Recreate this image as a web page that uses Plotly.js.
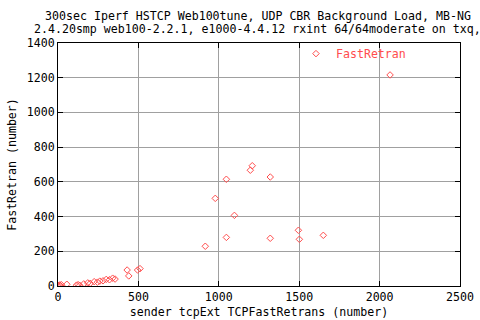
<!DOCTYPE html>
<html>
<head>
<meta charset="utf-8">
<script src="https://cdn.plot.ly/plotly-3.0.1.min.js"></script>
<style>html,body{margin:0;padding:0;background:#fff;}#chart{width:480px;height:320px;}</style>
</head>
<body>
<div id="chart"></div>
<script>
const seriesName = "FastRetran";
const tcpFastRetrans = [0, 5, 10, 15, 20, 55, 115, 125, 135, 160, 185, 200, 225, 245, 260, 280, 300, 320, 340, 355, 430, 440, 495, 510, 916, 978, 1047, 1047, 1097, 1196, 1208, 1320, 1320, 1495, 1501, 1650, 2065];
const fastRetran = [0, 3, 6, 2, 8, 10, 5, 8, 4, 12, 18, 15, 25, 22, 28, 30, 38, 36, 45, 40, 92, 58, 92, 100, 229, 505, 615, 280, 407, 667, 693, 628, 275, 321, 269, 292, 1216];
const xTicks = [0, 500, 1000, 1500, 2000, 2500];
const yTicks = [0, 200, 400, 600, 800, 1000, 1200, 1400];
const titleLine1 = "300sec Iperf HSTCP Web100tune, UDP CBR Background Load, MB-NG";
const titleLine2 = "2.4.20smp web100-2.2.1, e1000-4.4.12 rxint 64/64moderate on txq,";
const xTitle = "sender tcpExt TCPFastRetrans (number)";
const yTitle = "FastRetran (number)";

const FONT = "DejaVu Sans Mono, monospace";
const RED = "#ff4d4d";

const trace = {
  type: "scatter", mode: "markers", name: seriesName,
  x: tcpFastRetrans, y: fastRetran,
  marker: {symbol: "diamond-open", size: 5, color: RED, line: {width: 1, color: RED}}
};

const axisCommon = {
  showline: true, linecolor: "#000", linewidth: 1, mirror: "ticks",
  ticks: "inside", ticklen: 5, tickcolor: "#000", tickwidth: 1,
  showgrid: true, gridcolor: "#a0a0a0", gridwidth: 1, zeroline: false,
  tickfont: {family: FONT, size: 11.6, color: "#000"}, tickmode: "array"
};

const layout = {
  width: 480, height: 320,
  margin: {l: 58, r: 20, t: 43, b: 34},
  paper_bgcolor: "#fff", plot_bgcolor: "#fff",
  font: {family: FONT, size: 11.6, color: "#000"},
  title: {text: titleLine1, font: {family: FONT, size: 11.6, color: "#000"},
          xref: "container", x: 258/480, xanchor: "center", yref: "container", y: 1 - 16/320, yanchor: "middle"},
  annotations: [{
    text: titleLine2, showarrow: false, xref: "paper", yref: "paper",
    x: (257 - 58) / 402, xanchor: "center", y: 1 + (43 - 29) / 243, yanchor: "middle",
    font: {family: FONT, size: 11.6, color: "#000"}
  }],
  xaxis: Object.assign({}, axisCommon, {range: [0, 2500], tickvals: xTicks, ticktext: xTicks.map(String),
          title: {text: xTitle, font: {family: FONT, size: 11.6, color: "#000"}, standoff: 4}}),
  yaxis: Object.assign({}, axisCommon, {range: [0, 1400], tickvals: yTicks, ticktext: yTicks.map(String),
          title: {text: yTitle, font: {family: FONT, size: 11.6, color: "#000"}, standoff: 7}}),
  showlegend: true,
  legend: {x: 0.592, y: 1.016, xanchor: "left", yanchor: "top", bgcolor: "rgba(0,0,0,0)",
           font: {family: FONT, size: 11.6, color: RED}}
};

Plotly.newPlot("chart", [trace], layout, {staticPlot: true, displayModeBar: false});
</script>
</body>
</html>
